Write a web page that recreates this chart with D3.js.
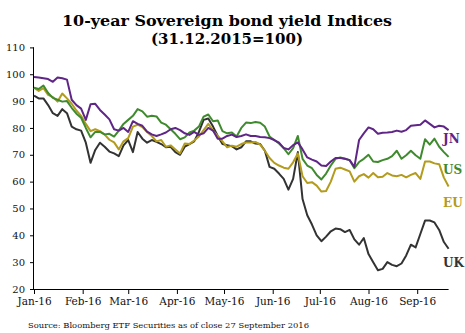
<!DOCTYPE html>
<html><head><meta charset="utf-8">
<script src="https://cdn.jsdelivr.net/npm/d3@7"></script>
<style>body{margin:0;background:#fff}svg{display:block}</style>
</head><body>
<script>
const titleLines = ["10-year Sovereign bond yield Indices", "(31.12.2015=100)"];
const sourceText = "Source: Bloomberg ETF Securities as of close 27 September 2016";
const yTicks = [20,30,40,50,60,70,80,90,100,110];
const xTickLabels = ["Jan-16","Feb-16","Mar-16","Apr-16","May-16","Jun-16","Jul-16","Aug-16","Sep-16"];
const xTickDates = ["2016-01-01","2016-02-01","2016-03-01","2016-04-01","2016-05-01","2016-06-01","2016-07-01","2016-08-01","2016-09-01"];
const dates = [
"2016-01-01","2016-01-04","2016-01-07","2016-01-10","2016-01-13","2016-01-16","2016-01-19","2016-01-22","2016-01-25","2016-01-28",
"2016-01-31","2016-02-03","2016-02-06","2016-02-09","2016-02-12","2016-02-15","2016-02-18","2016-02-21","2016-02-24","2016-02-27",
"2016-03-01","2016-03-04","2016-03-07","2016-03-10","2016-03-13","2016-03-16","2016-03-19","2016-03-22","2016-03-25","2016-03-28",
"2016-03-31","2016-04-03","2016-04-06","2016-04-09","2016-04-12","2016-04-15","2016-04-18","2016-04-21","2016-04-24","2016-04-27",
"2016-04-30","2016-05-03","2016-05-06","2016-05-09","2016-05-12","2016-05-15","2016-05-18","2016-05-21","2016-05-24","2016-05-27",
"2016-05-30","2016-06-02","2016-06-05","2016-06-08","2016-06-11","2016-06-14","2016-06-17","2016-06-20","2016-06-23","2016-06-26",
"2016-06-29","2016-07-02","2016-07-05","2016-07-08","2016-07-11","2016-07-14","2016-07-17","2016-07-20","2016-07-23","2016-07-26",
"2016-07-29","2016-08-01","2016-08-04","2016-08-07","2016-08-10","2016-08-13","2016-08-16","2016-08-19","2016-08-22","2016-08-25",
"2016-08-28","2016-08-31","2016-09-03","2016-09-06","2016-09-09","2016-09-12","2016-09-15","2016-09-18","2016-09-21"];
const seriesNames = ["JN","US","EU","UK"];
const jn = [99,98.8,98.5,98.2,97.2,98.8,98.5,98.0,90.5,88.5,
87.2,83.0,88.8,89.0,86.7,85.0,83.2,79.5,79.0,80.0,
78.5,82.5,81.5,80.8,78.6,77.6,77.0,77.6,78.3,79.5,
80.0,79.2,78.0,77.4,78.5,77.4,78.0,80.0,79.0,76.0,
76.0,77.0,77.5,76.6,77.0,77.6,77.0,77.0,76.6,76.5,
76.2,75.5,74.5,72.5,72.0,73.6,74.6,72.0,69.0,68.2,
67.5,66.0,65.8,67.5,68.8,68.8,68.5,68.0,65.5,75.5,
78.0,80.2,79.5,77.8,78.2,78.3,78.5,79.0,78.6,79.2,
80.8,81.0,81.2,82.8,81.5,80.2,80.8,80.5,79.2];
const us = [95.0,94.5,95.8,93.0,91.2,90.5,89.8,90.0,87.5,85.3,
83.8,80.0,76.5,78.5,78.5,77.6,77.8,76.8,79.0,81.5,
83.0,84.5,87.0,86.2,84.2,84.5,84.3,82.0,81.2,79.5,
77.8,75.8,76.5,78.3,79.0,80.5,84.2,85.0,82.5,82.8,
78.8,78.0,78.3,76.8,80.0,82.0,81.8,82.2,81.9,80.5,
76.8,75.5,74.2,72.5,70.2,72.5,77.0,68.5,66.0,65.0,
62.5,60.8,63.0,66.0,68.5,69.0,68.5,68.0,65.0,67.3,
68.5,70.0,67.5,67.3,68.0,68.5,69.5,71.5,68.5,69.8,
71.5,69.8,68.5,75.8,73.8,76.0,73.0,71.0,69.2];
const eu = [95.0,93.8,94.8,92.3,91.5,89.8,92.8,91.0,89.0,86.5,
84.5,81.5,78.8,79.5,78.8,77.5,75.6,74.6,72.0,75.0,
76.2,80.5,81.2,80.3,78.5,77.0,75.0,75.5,73.0,73.5,
72.0,70.5,74.2,74.0,75.3,76.8,79.2,81.5,79.0,77.0,
75.0,72.8,73.4,73.0,74.0,74.6,74.6,74.8,73.8,71.5,
68.8,67.0,66.0,65.2,64.8,67.2,70.5,62.0,59.5,59.8,
58.5,56.3,56.5,60.0,64.8,65.2,64.5,63.8,60.0,62.0,
62.8,61.5,63.2,61.6,61.8,63.2,62.3,62.0,62.5,61.6,
62.5,63.2,61.0,67.5,67.5,66.8,66.5,61.5,58.2];
const uk = [92.0,91.0,91.0,88.5,85.5,84.5,87.0,85.5,80.5,79.5,
79.0,74.5,67.0,71.8,74.5,73.0,71.2,70.5,69.5,73.5,
75.5,71.0,78.5,76.0,74.5,75.5,74.8,74.0,72.8,73.0,
71.0,70.0,73.0,74.0,75.0,78.5,83.0,83.5,80.5,77.0,
74.0,73.6,73.2,72.0,72.8,75.0,75.0,74.2,74.0,71.5,
65.5,64.8,63.0,61.0,57.0,61.0,71.0,53.5,47.5,44.0,
40.0,37.8,39.5,41.5,42.5,42.3,41.2,42.0,38.5,36.5,
39.0,33.0,30.0,27.0,27.5,30.0,29.0,28.5,29.5,32.5,
36.5,35.5,40.5,45.5,45.5,44.8,42.0,37.5,35.0];
const colors = {JN:"#5f2587", US:"#3f8a2e", EU:"#b39b1c", UK:"#333333"};
const labelPos = {JN:138, US:169, EU:202, UK:262};

const W = 465, H = 333;
const parse = d3.timeParse("%Y-%m-%d");
const svg = d3.select("body").append("svg").attr("width", W).attr("height", H);

const x = d3.scaleTime().domain([parse("2016-01-01"), parse("2016-09-21")]).range([34, 448.6]);
const y = d3.scaleLinear().domain([20, 110]).range([289, 47.4]);

// title
svg.append("text").attr("x", 227).attr("y", 26).attr("text-anchor", "middle")
  .attr("font-family", "DejaVu Serif").attr("font-weight", "bold").attr("font-size", 15)
  .attr("textLength", 330).attr("lengthAdjust", "spacingAndGlyphs").text(titleLines[0]);
svg.append("text").attr("x", 227).attr("y", 43.5).attr("text-anchor", "middle")
  .attr("font-family", "DejaVu Serif").attr("font-weight", "bold").attr("font-size", 15)
  .attr("textLength", 152).attr("lengthAdjust", "spacingAndGlyphs").text(titleLines[1]);

// y axis
const yAxis = d3.axisLeft(y).tickValues(yTicks).tickSize(4).tickPadding(5).tickFormat(d3.format("d"));
const gy = svg.append("g").attr("transform", "translate(34,0)").call(yAxis);
gy.select(".domain").attr("d", `M-0.5,${y(110)}V${y(20)}`).attr("stroke", "#000");
gy.selectAll("text").attr("font-family", "DejaVu Serif").attr("font-size", 10).attr("fill", "#111");

// x axis
const xAxis = d3.axisBottom(x).tickValues(xTickDates.map(parse)).tickSize(5).tickPadding(4)
  .tickFormat((d, i) => xTickLabels[i]);
const gx = svg.append("g").attr("transform", `translate(0,${y(20)})`).call(xAxis);
gx.select(".domain").attr("d", `M34,0.5H${x.range()[1]}`).attr("stroke", "#000");
gx.selectAll("text").attr("font-family", "DejaVu Serif").attr("font-size", 10.5).attr("fill", "#111");

// lines
const dataBy = {JN: jn, US: us, EU: eu, UK: uk};
const line = d3.line().x((d, i) => x(parse(dates[i]))).y(d => y(d));
["UK","EU","US","JN"].forEach(k => {
  svg.append("path").datum(dataBy[k]).attr("d", line).attr("fill", "none")
    .attr("stroke", colors[k]).attr("stroke-width", 2).attr("stroke-linejoin", "round");
});

// labels
seriesNames.forEach(k => {
  svg.append("text").attr("x", 443).attr("y", labelPos[k] + 5)
    .attr("font-family", "DejaVu Serif").attr("font-weight", "bold").attr("font-size", 12)
    .attr("fill", colors[k]).text(k);
});

// source
svg.append("text").attr("x", 28).attr("y", 328)
  .attr("font-family", "DejaVu Serif").attr("font-size", 8)
  .attr("textLength", 281).attr("lengthAdjust", "spacingAndGlyphs").attr("fill", "#111").text(sourceText);
</script>
</body></html>
